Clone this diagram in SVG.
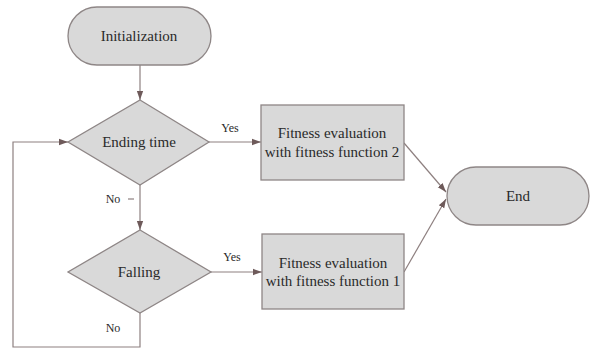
<svg xmlns="http://www.w3.org/2000/svg" width="592" height="349" viewBox="0 0 592 349">
<style>
.shape{fill:#d9d9d9;stroke:#8e8686;stroke-width:1.3}
.t{font-family:"Liberation Serif","Times New Roman",serif;font-size:15px;fill:#2a2a2a;text-anchor:middle;dominant-baseline:central}
.l{font-family:"Liberation Serif","Times New Roman",serif;font-size:12px;fill:#2a2a2a;text-anchor:middle;dominant-baseline:central}
.c{fill:none;stroke:#8e8080;stroke-width:1.2}
</style>
<defs>
<marker id="arr" viewBox="0 0 10 10" refX="10" refY="5" markerWidth="9" markerHeight="9" markerUnits="userSpaceOnUse" orient="auto">
<path d="M0,1.5 L10,5 L0,8.5 Z" fill="#6e5a5a"/>
</marker>
</defs>
<rect width="592" height="349" fill="#fff"/>
<g id="connectors">
<line class="c" x1="140" y1="65" x2="140" y2="100" marker-end="url(#arr)"/>
<line class="c" x1="209" y1="142" x2="261" y2="142" marker-end="url(#arr)"/>
<line class="c" x1="140" y1="185" x2="140" y2="230" marker-end="url(#arr)"/>
<line class="c" x1="128" y1="199" x2="134" y2="199"/>
<line class="c" x1="211" y1="272" x2="262" y2="272" marker-end="url(#arr)"/>
<polyline class="c" points="140,313 140,347 13,347 13,142 68,142" marker-end="url(#arr)"/>
<line class="c" x1="404" y1="143" x2="446" y2="192" marker-end="url(#arr)"/>
<line class="c" x1="404" y1="272" x2="446" y2="199" marker-end="url(#arr)"/>
<text class="l" x="230" y="128">Yes</text>
<text class="l" x="232" y="257">Yes</text>
<text class="l" x="113" y="199">No</text>
<text class="l" x="113" y="328">No</text>
</g>
<g id="init">
<rect class="shape" x="68" y="7" width="143" height="58" rx="29" ry="29"/>
<text class="t" x="139" y="36">Initialization</text>
</g>
<g id="ending">
<polygon class="shape" points="140,100 209,142 140,185 68,142"/>
<text class="t" x="139" y="142">Ending time</text>
</g>
<g id="falling">
<polygon class="shape" points="140,230 211,272 140,313 68,272"/>
<text class="t" x="139" y="272">Falling</text>
</g>
<g id="fit2">
<rect class="shape" x="261" y="105" width="143" height="75"/>
<text class="t" x="332" y="133">Fitness evaluation</text>
<text class="t" x="332" y="152">with fitness function 2</text>
</g>
<g id="fit1">
<rect class="shape" x="262" y="234" width="142" height="75"/>
<text class="t" x="333" y="263">Fitness evaluation</text>
<text class="t" x="333" y="281">with fitness function 1</text>
</g>
<g id="end">
<rect class="shape" x="447" y="167" width="142" height="58" rx="29" ry="29"/>
<text class="t" x="518" y="196">End</text>
</g>
</svg>
